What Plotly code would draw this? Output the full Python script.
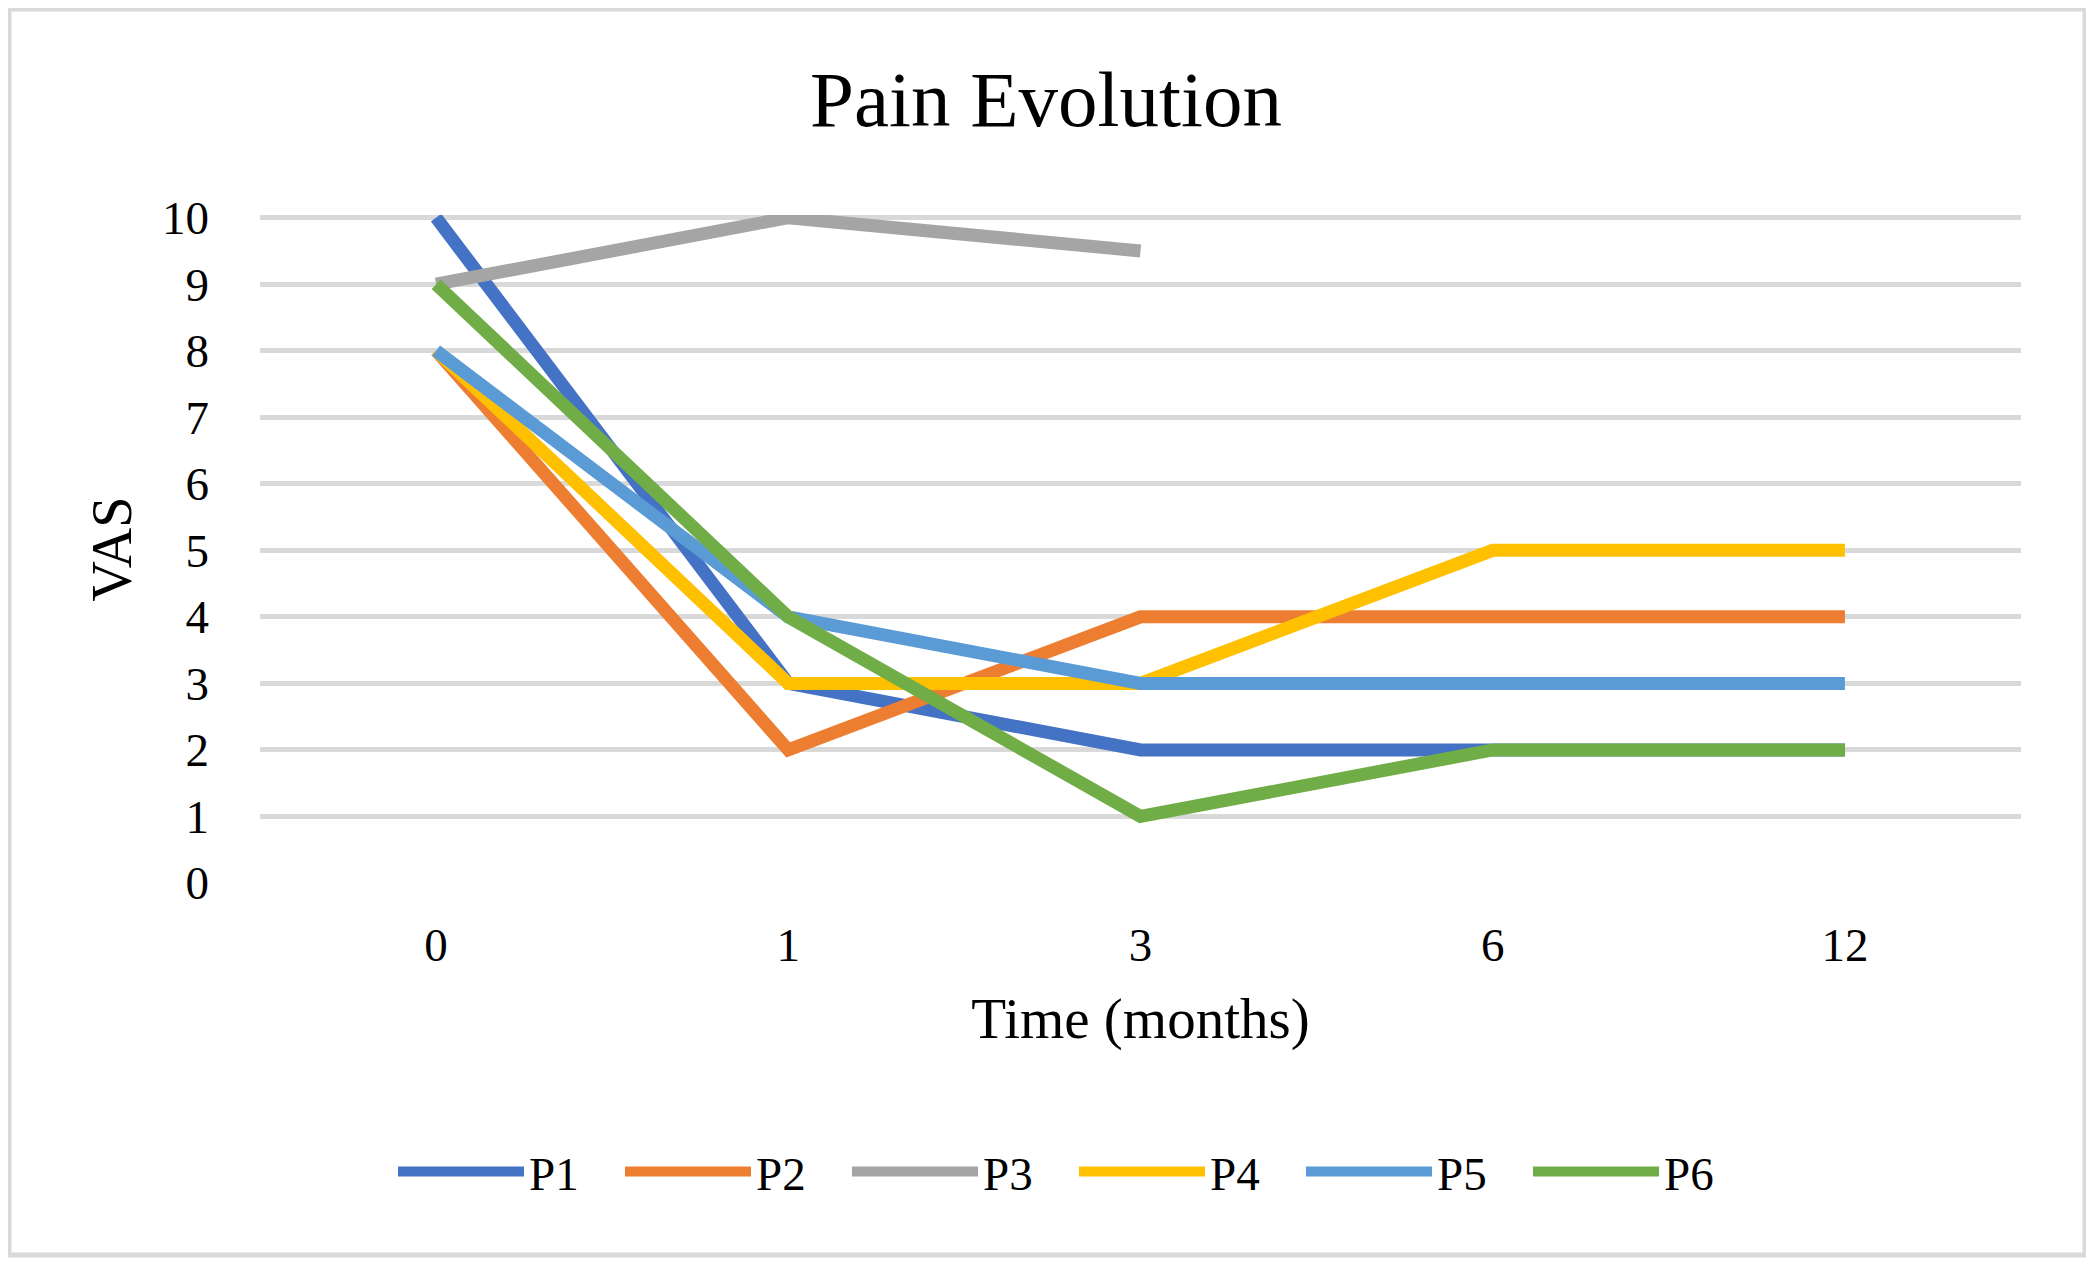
import plotly.graph_objects as go

# ---- data ----
time_labels = ["0", "1", "3", "6", "12"]
series_names = ["P1", "P2", "P3", "P4", "P5", "P6"]
p1 = [10, 3, 2, 2, 2]
p2 = [8, 2, 4, 4, 4]
p3 = [9, 10, 9.5, None, None]
p4 = [8, 3, 3, 5, 5]
p5 = [8, 4, 3, 3, 3]
p6 = [9, 4, 1, 2, 2]
series_values = [p1, p2, p3, p4, p5, p6]
colors = ["#4472C4", "#ED7D31", "#A5A5A5", "#FFC000", "#5B9BD5", "#70AD47"]
y_ticks = list(range(0, 11))

W, H = 2094, 1264
OFF = 8  # page body margin offset
# plot area in page pixels: x 260..2021, y 215..883
L = 260 - OFF
T = 215 - OFF
R = W - (2021 - OFF)
B = H - (883 - OFF)
pw, ph = W - L - R, H - T - B

def px_x(x):
    return (x - OFF - L) / pw

def px_y(y):
    return (H - B - (y - OFF)) / ph

FONT = "Liberation Serif, Times New Roman, serif"

fig = go.Figure()
for name, vals, col in zip(series_names, series_values, colors):
    fig.add_trace(go.Scatter(
        x=time_labels, y=vals, name=name, mode="lines",
        line=dict(color=col, width=13),
        connectgaps=False,
    ))

fig.update_layout(
    width=W, height=H,
    margin=dict(l=L, r=R, t=T, b=B, autoexpand=False),
    paper_bgcolor="white", plot_bgcolor="white",
    font=dict(family=FONT, color="#000000", size=47),
    title=dict(text="Pain Evolution", x=(1046 - OFF) / W, xref="container", xanchor="center",
               y=1 - 90 / H, yref="container", yanchor="middle",
               font=dict(family=FONT, size=79, color="#000000")),
    showlegend=True,
    legend=dict(orientation="h", x=px_x(393), xanchor="left",
                y=px_y(1172), yanchor="middle",
                font=dict(family=FONT, size=47, color="#000000"),
                itemwidth=126, entrywidth=86, entrywidthmode="pixels",
                bgcolor="rgba(0,0,0,0)"),
    xaxis=dict(type="category", categoryorder="array", categoryarray=time_labels,
               range=[-0.5, 4.5], showgrid=False, zeroline=False, showline=False,
               ticks="", ticklabelstandoff=30,
               tickfont=dict(family=FONT, size=47, color="#000000"),
               title=dict(text="Time (months)", standoff=28,
                          font=dict(family=FONT, size=57, color="#000000"))),
    yaxis=dict(range=[0, 10.04], tickvals=y_ticks, showgrid=True,
               gridcolor="#D9D9D9", gridwidth=4.5, zeroline=False, showline=False,
               ticks="", ticklabelstandoff=50,
               tickfont=dict(family=FONT, size=47, color="#000000"),
               title=dict(text="VAS", standoff=12,
                          font=dict(family=FONT, size=56, color="#000000"))),
    shapes=[dict(type="rect", xref="paper", yref="paper",
                 x0=px_x(9), x1=px_x(2085), y0=px_y(1255), y1=px_y(9),
                 line=dict(color="#D9D9D9", width=5), fillcolor="rgba(0,0,0,0)",
                 layer="below")],
)

fig.write_html("out.html")
